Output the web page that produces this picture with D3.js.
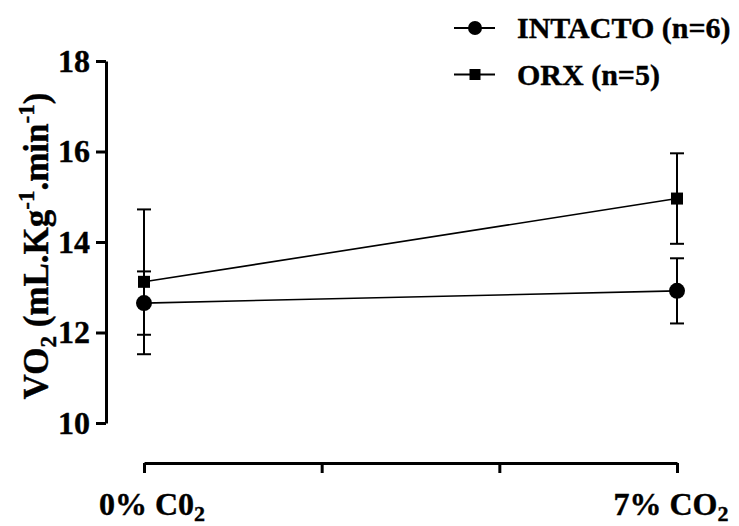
<!DOCTYPE html>
<html>
<head>
<meta charset="utf-8">
<script src="https://cdn.jsdelivr.net/npm/d3@7"></script>
<style>
  html, body { margin: 0; padding: 0; background: #fff; }
  svg text { font-family: "Times New Roman", "Liberation Serif", Times, "DejaVu Serif", serif; font-weight: bold; fill: #000; }
</style>
</head>
<body>
<svg id="chart" width="739" height="526"></svg>
<script>
// Conditions on the x axis (positions 0 and 3 of a 4-tick axis)
const conditions = ["0% C0", "7% CO"];
const conditionPos = [0, 3];

// Mean VO2 and SEM for each group
const intactoMean = [12.65, 12.92];
const intactoSem = [0.70, 0.72];
const orxMean = [13.12, 14.96];
const orxSem = [1.60, 1.00];

const yTicks = [10, 12, 14, 16, 18];
const xTicks = [0, 1, 2, 3];

const groups = [
  { name: "INTACTO (n=6)", mean: intactoMean, sem: intactoSem, symbol: "circle" },
  { name: "ORX (n=5)", mean: orxMean, sem: orxSem, symbol: "square" }
];

const serif = "'Times New Roman', 'Liberation Serif', Times, 'DejaVu Serif', serif";
const svg = d3.select("#chart");

const x = d3.scaleLinear().domain([0, 3]).range([144, 677]);
const y = d3.scaleLinear().domain([10, 18]).range([423, 61]);

// Y axis
const yAxis = svg.append("g")
  .attr("transform", "translate(106,0)")
  .call(d3.axisLeft(y).tickValues(yTicks).tickSize(10).tickPadding(6).tickSizeOuter(0));
yAxis.attr("font-family", null).attr("font-size", null);
yAxis.select(".domain").attr("stroke", "#000").attr("stroke-width", 3);
yAxis.selectAll(".tick line").attr("stroke", "#000").attr("stroke-width", 3);
yAxis.selectAll(".tick text")
  .style("font-family", serif)
  .style("font-weight", "bold")
  .style("font-size", "32px")
  .attr("fill", "#000")
  .attr("stroke", "#000")
  .attr("stroke-width", 0.4);

// X axis (unlabelled middle ticks)
const xAxis = svg.append("g")
  .attr("transform", "translate(0,463)")
  .call(d3.axisBottom(x).tickValues(xTicks).tickSize(10).tickFormat("").tickSizeOuter(0));
xAxis.select(".domain").attr("stroke", "#000").attr("stroke-width", 3);
xAxis.selectAll(".tick line").attr("stroke", "#000").attr("stroke-width", 3);

// Condition labels with subscript 2
const xLabelShift = [8, -6];
conditions.forEach((c, i) => {
  const t = svg.append("text")
    .attr("x", x(conditionPos[i]) + xLabelShift[i])
    .attr("y", 515)
    .attr("text-anchor", "middle")
    .attr("stroke", "#000")
    .attr("stroke-width", 0.4)
    .style("font-family", serif)
    .style("font-size", "32px");
  t.append("tspan").text(c);
  t.append("tspan").attr("dy", 6).style("font-size", "22px").text("2");
});

// Y axis title: VO2 (mL.Kg-1.min-1)
const yTitle = svg.append("text")
  .attr("transform", "translate(48,246) rotate(-90)")
  .attr("text-anchor", "middle")
  .attr("stroke", "#000")
  .attr("stroke-width", 0.4)
  .style("font-family", serif)
  .style("font-size", "35px");
yTitle.append("tspan").text("VO");
yTitle.append("tspan").attr("dy", 8).style("font-size", "23px").text("2");
yTitle.append("tspan").attr("dy", -8).text(" (mL.Kg");
yTitle.append("tspan").attr("dy", -14).style("font-size", "23px").text("-1");
yTitle.append("tspan").attr("dy", 14).text(".min");
yTitle.append("tspan").attr("dy", -14).style("font-size", "23px").text("-1");
yTitle.append("tspan").attr("dy", 14).text(")");

const line = d3.line().x((d, i) => x(conditionPos[i])).y(d => y(d));
const capW = 7;

groups.forEach(g => {
  const gg = svg.append("g");
  // connecting line
  gg.append("path")
    .datum(g.mean)
    .attr("d", line)
    .attr("fill", "none")
    .attr("stroke", "#000")
    .attr("stroke-width", 1.6);
  // error bars
  g.mean.forEach((m, i) => {
    const cx = x(conditionPos[i]);
    const lo = y(m - g.sem[i]);
    const hi = y(m + g.sem[i]);
    gg.append("line").attr("x1", cx).attr("x2", cx).attr("y1", lo).attr("y2", hi)
      .attr("stroke", "#000").attr("stroke-width", 2);
    [lo, hi].forEach(yy => {
      gg.append("line").attr("x1", cx - capW).attr("x2", cx + capW).attr("y1", yy).attr("y2", yy)
        .attr("stroke", "#000").attr("stroke-width", 2);
    });
  });
});

// markers
function drawMarker(sel, symbol, cx, cy, r, s) {
  if (symbol === "circle") {
    sel.append("circle").attr("cx", cx).attr("cy", cy).attr("r", r).attr("fill", "#000");
  } else {
    sel.append("rect").attr("x", cx - s / 2).attr("y", cy - s / 2).attr("width", s).attr("height", s).attr("fill", "#000");
  }
}
groups.forEach(g => {
  const gm = svg.append("g");
  g.mean.forEach((m, i) => drawMarker(gm, g.symbol, x(conditionPos[i]), y(m), 8, 12));
});

// Legend
const legendY = [28, 74.5];
groups.forEach((g, i) => {
  const lg = svg.append("g");
  lg.append("line").attr("x1", 454).attr("x2", 495).attr("y1", legendY[i]).attr("y2", legendY[i])
    .attr("stroke", "#000").attr("stroke-width", 2);
  drawMarker(lg, g.symbol, 475, legendY[i], 7, 11);
  lg.append("text").attr("x", 517).attr("y", legendY[i] + 10)
    .attr("stroke", "#000")
    .attr("stroke-width", 0.4)
    .style("font-family", serif)
    .style("font-size", "30px").text(g.name);
});
</script>
</body>
</html>
